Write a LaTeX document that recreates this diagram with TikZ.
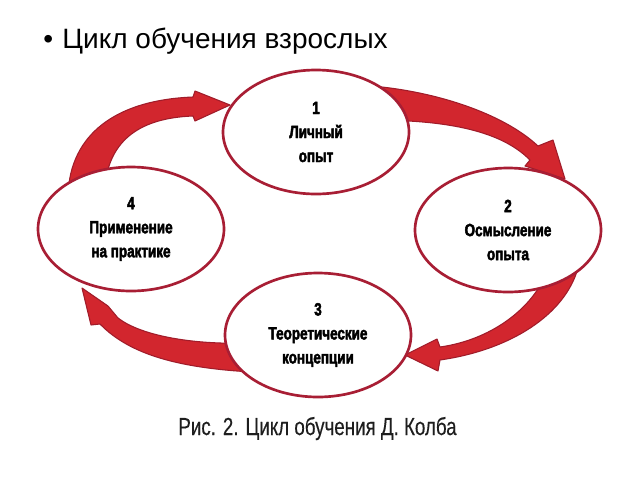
\documentclass[tikz,border=0pt]{standalone}
\usepackage{fontspec}
\setmainfont{Liberation Sans}
\newfontfamily\boxfont[FakeStretch=0.76, FakeBold=2.5]{Liberation Sans Bold}
\newfontfamily\capfont[FakeStretch=0.76, FakeBold=0.3]{Liberation Sans}
\usetikzlibrary{shapes.geometric}
\definecolor{ringred}{HTML}{A81E34}
\definecolor{arrowred}{HTML}{D2262E}
\definecolor{arrowedge}{HTML}{A01C2A}
\definecolor{captiongray}{HTML}{1E1E1E}
\pgfdeclarelayer{background}
\pgfsetlayers{background,main}
\begin{document}
\begin{tikzpicture}[x=0.75pt,y=-0.75pt,
  stage/.style={ellipse, draw=ringred, line width=2pt, fill=white,
    minimum width=139.5pt, minimum height=93pt, inner sep=0pt, align=center,
    font=\boxfont\fontsize{13.3}{18}\selectfont},
  bigarrow/.style={fill=arrowred, draw=arrowedge, line width=0.8pt, line join=round}]
\useasboundingbox (0,0) rectangle (640,480);

% title
\node[anchor=base west, inner sep=0pt, font=\fontsize{21}{24}\selectfont] (title) at (43,48) {•\hspace{7pt}Цикл обучения взрослых};

% stages
\node[stage] (E1) at (316,132) {1\\Личный\\опыт};
\node[stage] (E2) at (508,230) {2\\Осмысление\\опыта};
\node[stage] (E3) at (318,335) {3\\Теоретические\\концепции};
\node[stage] (E4) at (131,229) {4\\Применение\\на практике};

% caption
\node[anchor=base, inner sep=0pt, text=captiongray, font=\capfont\fontsize{18.5}{22}\selectfont] (cap) at (317.5,435) {Рис. 2. Цикл обучения Д. Колба};

% arrows (behind the ellipses)
\begin{pgfonlayer}{background}
\coordinate (t12) at (565,179);
\coordinate (t23) at (405,355);
\coordinate (t34) at (82,288);
\coordinate (t41) at (230,105);
% 1 -> 2
\draw[bigarrow] (372,86) .. controls (440,92) and (505,115) .. (538,146)
  -- (553,140) -- (t12) -- (525,166) -- (530,160)
  .. controls (505,135) and (460,120) .. (372,120) -- cycle;
% 2 -> 3
\draw[bigarrow] (578,268) .. controls (565,315) and (510,350) .. (440,360)
  -- (438,371) -- (t23) -- (437,339) -- (440,347)
  .. controls (490,340) and (530,310) .. (545,276) -- cycle;
% 3 -> 4
\draw[bigarrow] (250,343) .. controls (190,345) and (140,335) .. (118,318)
  -- (108,306) -- (t34) -- (91,325) -- (100,324)
  .. controls (130,355) and (180,368) .. (252,372) -- cycle;
% 4 -> 1
\draw[bigarrow] (68,195) .. controls (70,135) and (115,100) .. (193,97)
  -- (195,91) -- (t41) -- (195,121) -- (193,116)
  .. controls (140,118) and (110,140) .. (105,185) -- cycle;
\end{pgfonlayer}
\end{tikzpicture}
\end{document}
